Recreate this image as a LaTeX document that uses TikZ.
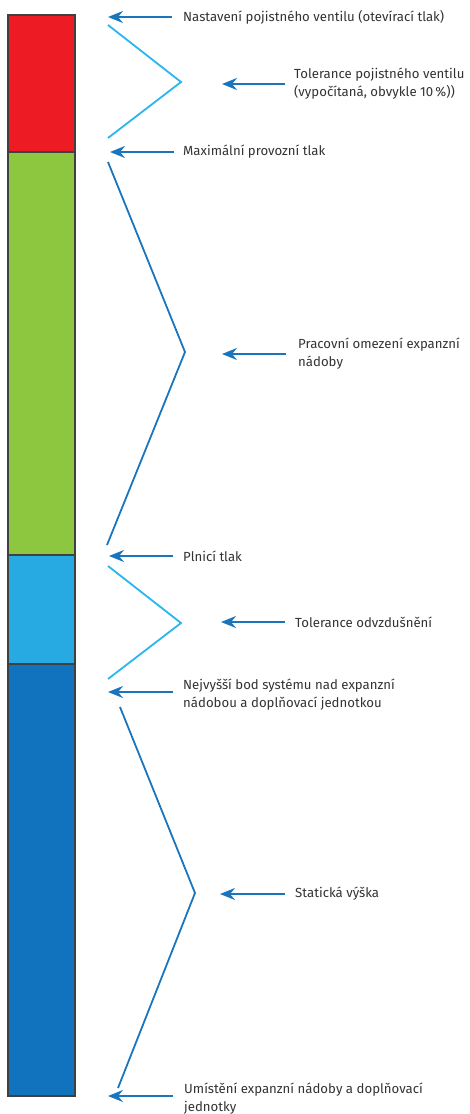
\documentclass[tikz,border=0pt]{standalone}
\usepackage{fontspec}
\setmainfont{Fira Sans}
\usetikzlibrary{arrows.meta}
\definecolor{barred}{HTML}{ED1C24}
\definecolor{bargreen}{HTML}{8DC63F}
\definecolor{barcyan}{HTML}{27AAE1}
\definecolor{barblue}{HTML}{1172BE}
\definecolor{linecyan}{HTML}{29B6EE}
\definecolor{lineblue}{HTML}{1B75BC}
\definecolor{textgray}{HTML}{333333}
\begin{document}
\begin{tikzpicture}[x=1pt,y=-1pt,
  lbl/.style={anchor=west,align=left,inner sep=0pt,text=textgray,
    font=\fontsize{13.2}{18}\selectfont},
  pointer/.style={draw=lineblue,line width=2pt,
    -{Stealth[length=15pt,width=12pt,inset=5pt]}},
  seg/.style={draw=black!75,line width=1.4pt},
  bracket/.style={line width=1.8pt}]
  \useasboundingbox (0,0) rectangle (469,1114);
  % pressure bar
  \filldraw[seg,fill=barred]   (8,15)  rectangle (75,152);
  \filldraw[seg,fill=bargreen] (8,152) rectangle (75,555);
  \filldraw[seg,fill=barcyan]  (8,555) rectangle (75,664);
  \filldraw[seg,fill=barblue]  (8,664) rectangle (75,1096);
  % brackets
  \draw[bracket,linecyan] (108,25)  -- (181,82)  -- (108,138);
  \draw[bracket,lineblue] (108,162) -- (185,352) -- (107,545);
  \draw[bracket,linecyan] (108,566) -- (181,623) -- (108,679);
  \draw[bracket,lineblue] (120,707) -- (195,893) -- (118,1088);
  % labels
  \node[lbl] (setp)   at (183,17)   {Nastavení pojistného ventilu (otevírací tlak)};
  \node[lbl] (tolv)   at (294,84)   {Tolerance pojistného ventilu\\(vypočítaná, obvykle 10\,\%))};
  \node[lbl] (maxp)   at (183,152)  {Maximální provozní tlak};
  \node[lbl] (work)   at (298,354)  {Pracovní omezení expanzní\\nádoby};
  \node[lbl] (fill)   at (183,556)  {Plnicí tlak};
  \node[lbl] (vent)   at (295,622)  {Tolerance odvzdušnění};
  \node[lbl] (high)   at (183,695)  {Nejvyšší bod systému nad expanzní\\nádobou a doplňovací jednotkou};
  \node[lbl] (stat)   at (295,894)  {Statická výška};
  \node[lbl] (place)  at (184,1099) {Umístění expanzní nádoby a doplňovací\\jednotky};
  % arrow tips
  \coordinate (tsetp)  at (108,17);
  \coordinate (ttolv)  at (222,84);
  \coordinate (tmaxp)  at (110,152);
  \coordinate (twork)  at (222,354);
  \coordinate (tfill)  at (109,556);
  \coordinate (tvent)  at (221,622);
  \coordinate (thigh)  at (108,692);
  \coordinate (tstat)  at (220,894);
  \coordinate (tplace) at (108,1096);
  % arrows
  \draw[pointer] ([xshift=-11pt]setp.west)  -- (tsetp);
  \draw[pointer] ([xshift=-9pt]tolv.west)   -- (ttolv);
  \draw[pointer] ([xshift=-9pt]maxp.west)   -- (tmaxp);
  \draw[pointer] ([xshift=-12pt]work.west)  -- (twork);
  \draw[pointer] ([xshift=-10pt]fill.west)  -- (tfill);
  \draw[pointer] ([xshift=-10pt]vent.west)  -- (tvent);
  \draw[pointer] ([xshift=-10pt]high.west |- thigh) -- (thigh);
  \draw[pointer] ([xshift=-10pt]stat.west)  -- (tstat);
  \draw[pointer] ([xshift=-11pt]place.west |- tplace) -- (tplace);
\end{tikzpicture}
\end{document}
